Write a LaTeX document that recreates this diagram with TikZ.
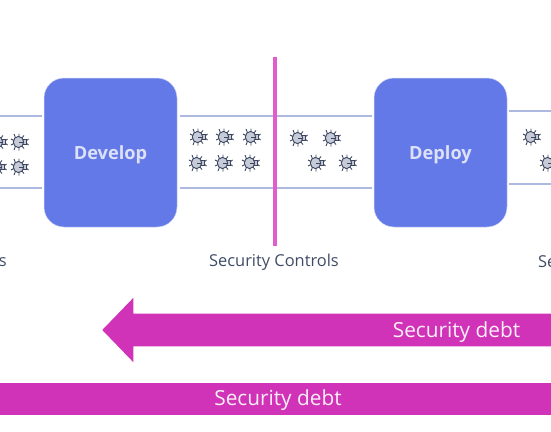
\documentclass[tikz,border=0pt]{standalone}
\usepackage{fontspec}
\setmainfont{Open Sans}
\usetikzlibrary{arrows.meta, shapes.arrows, positioning}

\definecolor{stagefill}{HTML}{6479E8}
\definecolor{stagetext}{HTML}{DDE1F6}
\definecolor{bandline}{HTML}{AEB9E2}
\definecolor{debtfill}{HTML}{D033B8}
\definecolor{gatefill}{HTML}{E25CCB}
\definecolor{labeltext}{HTML}{3F4C66}
\definecolor{bugbody}{HTML}{C7CBD8}
\definecolor{bugline}{HTML}{3C4660}

\tikzset{
    pics/bug/.style={
        code={
            \draw[bugline, line width=0.9pt]
                (-4,-3) -- (-6,-8)  (-1,-4) -- (-1,-8.5)  (1,-3) -- (4,-6.5)
                (-4,3) -- (-6,8)  (-1,4) -- (-1,8.5)  (1,3) -- (4,6.5)
                (-6,-1.5) -- (-9,-3)  (-6,1.5) -- (-9,3)
                (5,0) -- (8.5,-3)  (5,0) -- (8.5,3);
            \draw[bugline, line width=0.9pt, fill=bugbody]
                (2,-2.7) rectangle (6,2.7);
            \draw[bugline, line width=0.9pt, fill=bugbody] (-1.5,0) ellipse (5.2 and 5.6);
            \draw[bugline, line width=0.6pt] (-1,0) -- (3,0);
        }
    }
}

\begin{document}
\begin{tikzpicture}[
        x=1pt,
        y=-1pt,
        node distance=196.5pt,
        stage/.style={
            rectangle,
            rounded corners=20pt,
            draw=bandline!60,
            line width=0.5pt,
            fill=stagefill,
            text=stagetext,
            text depth=0pt,
            minimum width=133pt,
            minimum height=149pt,
            font=\fontsize{18.2}{21}\selectfont\bfseries
        },
        gate/.style={
            rectangle,
            fill=gatefill,
            inner sep=0pt,
            minimum width=4.5pt,
            minimum height=189pt
        },
        caption/.style={
            text=labeltext,
            inner sep=0pt,
            font=\fontsize{16.4}{19}\selectfont
        },
        debtbar/.style={
            rectangle,
            fill=debtfill,
            inner sep=0pt,
            minimum width=551pt,
            minimum height=32pt
        },
        debtarrow/.style={
            single arrow,
            shape border rotate=180,
            fill=debtfill,
            inner sep=16.2pt,
            single arrow tip angle=92,
            single arrow head extend=15.8pt,
            single arrow head indent=0pt,
            minimum height=470pt
        },
        debttext/.style={
            text=white!92!debtfill,
            inner sep=0pt,
            font=\fontsize{20.8}{24}\selectfont
        },
        band/.style={
            draw=bandline,
            line width=1.2pt
        },
        bandlow/.style={
            draw=bandline,
            line width=1.8pt
        }
    ]

    \useasboundingbox (0,0) rectangle (551,431);
    \clip (0,0) rectangle (551,431);

    % stages
    \node[stage] (develop) at (110.5,152.5) {Develop};
    \node[stage, right=of develop] (deploy) {Deploy};

    % bands
    \coordinate (lefttop) at (0,116);
    \coordinate (leftbot) at (0,188);
    \coordinate (righttop) at (551,111);
    \coordinate (rightbot) at (551,184);
    \draw[band, shorten >=2pt] (lefttop) -- (lefttop -| develop.west);
    \draw[bandlow, shorten >=2pt] (leftbot) -- (leftbot -| develop.west);
    \draw[band, shorten <=3pt, shorten >=2pt] (lefttop -| develop.east) -- (lefttop -| deploy.west);
    \draw[bandlow, shorten <=3pt, shorten >=2pt] (leftbot -| develop.east) -- (leftbot -| deploy.west);
    \draw[band, shorten >=2pt] (righttop) -- (righttop -| deploy.east);
    \draw[band, shorten >=2pt] (rightbot) -- (rightbot -| deploy.east);

    \node[gate] (controls) at (275,151.5) {};

    % bugs
    \foreach \bugx/\bugy in {-1/142, 20/142, -2/167, 20/167,
                             199/137, 225/137, 252/137, 198/163, 224/163, 251/163,
                             299/138, 332/138, 317/163, 348/163,
                             532/137, 549/163} {
        \pic at (\bugx,\bugy) {bug};
    }

    % captions
    \node[caption] (controlslabel) at (274,262.5) {Security Controls};
    \node[caption, anchor=east] (planlabel) at (7,262) {s};
    \node[caption, anchor=west] (nextlabel) at (538,262) {Se};

    % security debt
    \node[debtarrow, anchor=tip] (shiftarrow) at (102,330) {};
    \node[debttext] (shifttext) at (456.5,332) {Security debt};
    \node[debtbar, anchor=north west] (debtband) at (0,382.5) {};
    \node[debttext] (debtlabel) at (278,400) {Security debt};

\end{tikzpicture}
\end{document}
